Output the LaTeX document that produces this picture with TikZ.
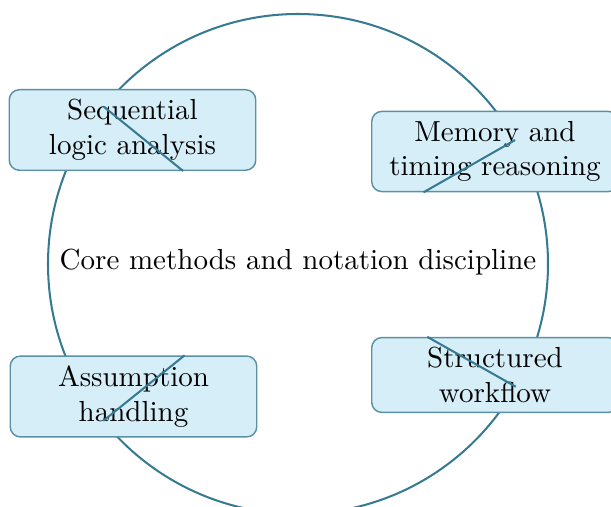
\documentclass[tikz,border=0pt]{standalone}
\usetikzlibrary{calc}
\definecolor{ringc}{RGB}{54,122,146}
\definecolor{boxline}{RGB}{90,145,165}
\definecolor{boxfill}{RGB}{214,238,248}
\begin{document}
\begin{tikzpicture}[x=0.3448pt,y=-0.3448pt,
  box/.style={draw=boxline, line width=0.5pt, fill=boxfill, rounded corners=3.5pt,
    align=center, minimum width=85pt, inner sep=3.33pt},
  ring/.style={draw=ringc, line width=0.7pt},
  spoke/.style={draw=ringc, line width=0.7pt}]
\useasboundingbox (0,0) rectangle (611,507);
\coordinate (O) at (298,264);
\draw[ring] (O) circle[radius=86.2pt];
\node[box] (b1) at (132.5,130) {Sequential\\logic analysis};
\node[box] (b2) at (495,151.5) {Memory and\\timing reasoning};
\node[box] (b3) at (133.5,396.5) {Assumption\\handling};
\node[box] (b4) at (495,375) {Structured\\workflow};
\node (t) at (298,262) {Core methods and notation discipline};
\foreach \b in {b1,b2,b3,b4}{
  \path (O) -- (\b) coordinate[pos=1] (e\b);
  \coordinate (p\b) at ($(O)!86.2pt!(\b)$);
  \draw[spoke] (p\b) -- (e\b);
}
\end{tikzpicture}
\end{document}
